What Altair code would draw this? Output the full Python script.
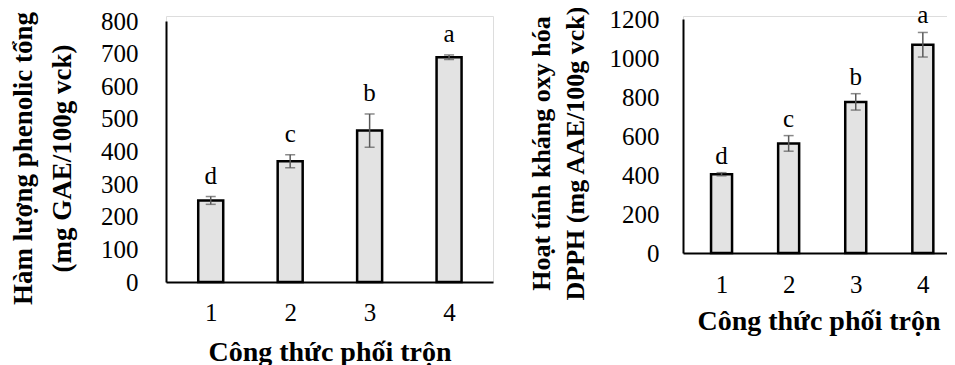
import altair as alt
import pandas as pd

formulas = [1, 2, 3, 4]
tpc_values = [250, 370, 464, 689]
tpc_errors = [12, 20, 51, 7]
tpc_letters = ["d", "c", "b", "a"]

dpph_values = [404, 562, 775, 1068]
dpph_errors = [8, 40, 42, 63]
dpph_letters = ["d", "c", "b", "a"]

FONT = "Liberation Serif"
BAR_FILL = "#e3e3e3"
ERR_COLOR = "#595959"


def panel(values, errors, letters, ymax, ystep, width, height, top_gap, xdomain, bar_size,
          ytitle, title_x, title_y, title_lh, title_size, y_label_pad, x_label_pad, x_title_pad,
          letter_dy):
    df = pd.DataFrame({"formula": formulas, "value": values, "err": errors, "letter": letters})
    base = alt.Chart(df).transform_calculate(
        lo="datum.value - datum.err", hi="datum.value + datum.err"
    )
    xscale = alt.Scale(domain=xdomain, nice=False, zero=False)
    xaxis = alt.Axis(
        values=formulas, format="d", grid=False, ticks=False, domainColor="black", domainWidth=2,
        labelFont=FONT, labelFontSize=25, labelColor="black", labelPadding=x_label_pad,
        labelOverlap=False,
        title="Công thức phối trộn", titleFont=FONT, titleFontSize=28,
        titleFontWeight="bold", titleColor="black", titlePadding=x_title_pad,
    )
    yscale = alt.Scale(domain=[0, ymax], nice=False, range=[height, top_gap])
    yaxis = alt.Axis(
        values=list(range(0, ymax + 1, ystep)), format="d", grid=False, ticks=False,
        domainColor="black", domainWidth=2, labelOverlap=False,
        labelFont=FONT, labelFontSize=25, labelColor="black", labelPadding=y_label_pad,
        title=ytitle, titleFont=FONT, titleFontSize=title_size, titleFontWeight="bold",
        titleColor="black", titleAngle=270, titleBaseline="middle", titleAlign="center",
        titleLineHeight=title_lh, titleX=title_x, titleY=title_y,
    )
    x = alt.X("formula:Q", scale=xscale, axis=xaxis)

    def Y(field):
        return alt.Y(field, scale=yscale, axis=yaxis)

    bars = base.mark_bar(size=bar_size, fill=BAR_FILL, stroke="black", strokeWidth=2.5).encode(
        x=x, y=Y("value:Q"))
    rules = base.mark_rule(color=ERR_COLOR, strokeWidth=1.5).encode(
        x=x, y=Y("lo:Q"), y2="hi:Q"
    )
    cap_lo = base.mark_tick(color=ERR_COLOR, size=10, thickness=1.5, orient="horizontal").encode(
        x=x, y=Y("lo:Q")
    )
    cap_hi = base.mark_tick(color=ERR_COLOR, size=10, thickness=1.5, orient="horizontal").encode(
        x=x, y=Y("hi:Q")
    )
    text = base.mark_text(font=FONT, fontSize=25, color="black", baseline="bottom",
                          dy=letter_dy).encode(
        x=x, y=Y("hi:Q"), text="letter:N"
    )
    return alt.layer(bars, rules, cap_lo, cap_hi, text).properties(width=width, height=height)


left = panel(tpc_values, tpc_errors, tpc_letters, 800, 100, 327, 266, 5, [0.5, 4.49], 25,
             ["Hàm lượng phenolic tổng", "(mg GAE/100g vck)"], -143, 142, 39, 27, 28, 18, 13, -8)
right = panel(dpph_values, dpph_errors, dpph_letters, 1200, 200, 271, 237, 3, [0.5, 4.39], 21,
              ["Hoạt tính kháng oxy hóa", "DPPH (mg AAE/100g vck)"], -142, 137, 34, 26, 24, 19, 10, -4)

chart = alt.hconcat(left, right, spacing=33).properties(
    padding={"left": 0, "top": -6, "right": -8, "bottom": 0}
).configure_view(stroke=None).configure(background="white")

chart.save("out.html", embed_options={"renderer": "svg", "actions": False})
